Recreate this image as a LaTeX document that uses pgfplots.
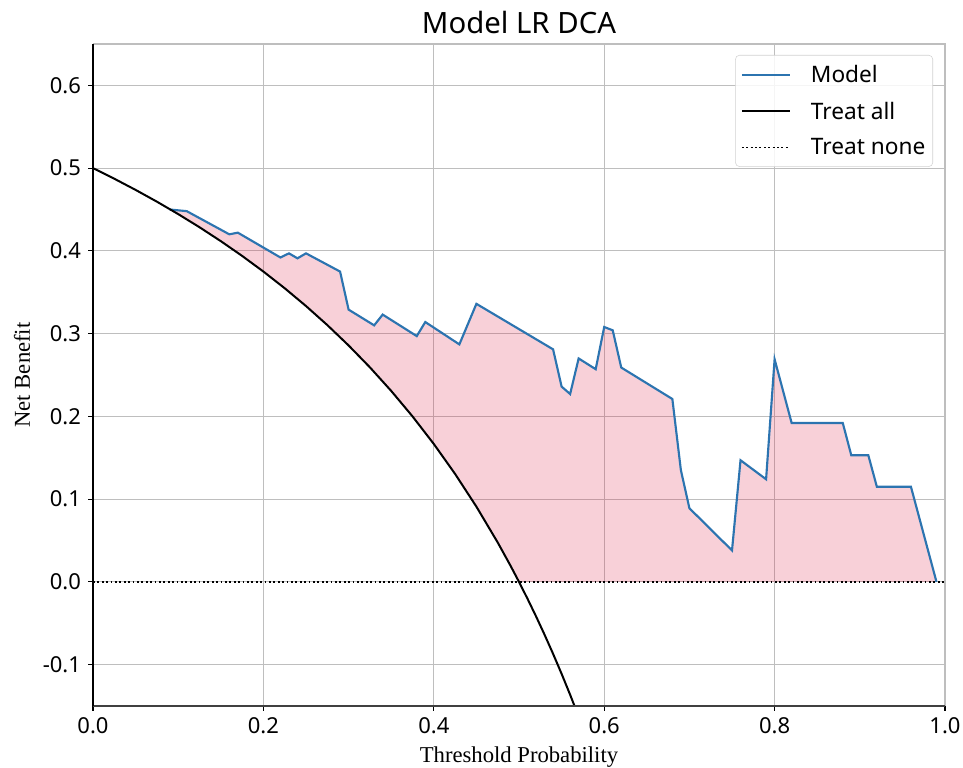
\documentclass[border=0pt]{standalone}
\usepackage{fontspec}
\setmainfont{Liberation Serif}
\newfontfamily\sans{Noto Sans}
\usepackage{pgfplots}
\pgfplotsset{compat=1.18}
\definecolor{modelblue}{RGB}{44,116,176}
\definecolor{fillred}{RGB}{220,20,60}
\definecolor{gridgray}{RGB}{190,190,190}
\begin{document}
\begin{tikzpicture}
\begin{axis}[
  scale only axis,
  width=639pt, height=496.5pt,
  xmin=0, xmax=1, ymin=-0.15, ymax=0.65,
  xtick={0,0.2,0.4,0.6,0.8,1.0},
  xticklabels={0.0,0.2,0.4,0.6,0.8,1.0},
  ytick={-0.1,0,0.1,0.2,0.3,0.4,0.5,0.6},
  yticklabels={-0.1,0.0,0.1,0.2,0.3,0.4,0.5,0.6},
  tick pos=left,
  tick align=outside,
  major tick length=3.5pt,
  every tick/.style={black, line width=0.8pt},
  grid=major,
  grid style={gridgray, line width=0.8pt},
  axis line style={draw=none},
  /pgf/number format/assume math mode=true,
  ticklabel style={font=\sans\fontsize{16.5}{19}\selectfont},
  xticklabel style={yshift=-2pt},
  yticklabel style={xshift=-2pt},
  legend cell align=left,
  legend style={
    at={(1,1)}, anchor=north east, xshift=-9pt, yshift=-8.25pt,
    font=\sans\fontsize{17}{20}\selectfont,
    draw=gray!35, rounded corners=3pt, fill=white, fill opacity=0.85, text opacity=1,
    inner xsep=4pt, inner ysep=6pt,
    row sep=10pt, column sep=13.5pt,
    nodes={inner sep=1.5pt},
  },
  legend image code/.code={\draw[#1] (0pt,0pt) -- (36pt,0pt);},
]
% shaded area between model and max(treat all, treat none)
\addplot[draw=none, fill=fillred, fill opacity=0.2, forget plot] coordinates {
(0.09,0.450) (0.11,0.448) (0.16,0.420) (0.17,0.422) (0.22,0.392) (0.23,0.397)
(0.24,0.391) (0.25,0.397) (0.29,0.375) (0.30,0.329) (0.33,0.310) (0.34,0.323)
(0.38,0.297) (0.39,0.314) (0.43,0.287) (0.45,0.336) (0.54,0.281) (0.55,0.236)
(0.56,0.227) (0.57,0.270) (0.59,0.257) (0.60,0.308) (0.61,0.304) (0.62,0.259)
(0.68,0.221) (0.69,0.135) (0.70,0.089) (0.75,0.038) (0.76,0.147) (0.79,0.124)
(0.80,0.269) (0.82,0.192) (0.88,0.192) (0.89,0.153) (0.91,0.153) (0.92,0.115)
(0.96,0.115) (0.99,0.000)
(0.50,0.000) (0.49,0.01961) (0.475,0.04762) (0.45,0.09091) (0.425,0.13043)
(0.40,0.16667) (0.375,0.20000) (0.35,0.23077) (0.325,0.25926) (0.30,0.28571)
(0.275,0.31034) (0.25,0.33333) (0.225,0.35484) (0.20,0.37500) (0.175,0.39394)
(0.15,0.41176) (0.125,0.42857) (0.10,0.44444) (0.09,0.45055)
} -- cycle;
\addplot[modelblue, line width=1.6pt] coordinates {
(0.09,0.450) (0.11,0.448) (0.16,0.420) (0.17,0.422) (0.22,0.392) (0.23,0.397)
(0.24,0.391) (0.25,0.397) (0.29,0.375) (0.30,0.329) (0.33,0.310) (0.34,0.323)
(0.38,0.297) (0.39,0.314) (0.43,0.287) (0.45,0.336) (0.54,0.281) (0.55,0.236)
(0.56,0.227) (0.57,0.270) (0.59,0.257) (0.60,0.308) (0.61,0.304) (0.62,0.259)
(0.68,0.221) (0.69,0.135) (0.70,0.089) (0.75,0.038) (0.76,0.147) (0.79,0.124)
(0.80,0.269) (0.82,0.192) (0.88,0.192) (0.89,0.153) (0.91,0.153) (0.92,0.115)
(0.96,0.115) (0.99,0.000)
};
\addlegendentry{Model}
\addplot[black, line width=1.5pt] coordinates {
(0.000,0.50000) (0.025,0.48718) (0.050,0.47368) (0.075,0.45946) (0.100,0.44444)
(0.125,0.42857) (0.150,0.41176) (0.175,0.39394) (0.200,0.37500) (0.225,0.35484)
(0.250,0.33333) (0.275,0.31034) (0.300,0.28571) (0.325,0.25926) (0.350,0.23077)
(0.375,0.20000) (0.400,0.16667) (0.425,0.13043) (0.450,0.09091) (0.475,0.04762)
(0.490,0.01961) (0.500,0.00000) (0.510,-0.02041) (0.520,-0.04167) (0.530,-0.06383)
(0.540,-0.08696) (0.550,-0.11111) (0.560,-0.13636) (0.570,-0.16279)
};
\addlegendentry{Treat all}
\addplot[black, line width=1.4pt, dash pattern=on 1.4pt off 1.9pt] coordinates {
(0,0) (1,0)
};
\addlegendentry{Treat none}
\coordinate (SW) at (rel axis cs:0,0);
\coordinate (NE) at (rel axis cs:1,1);
\coordinate (NW) at (rel axis cs:0,1);
\coordinate (SE) at (rel axis cs:1,0);
\coordinate (T) at (rel axis cs:0.5,1);
\coordinate (XL) at (rel axis cs:0.5,0);
\coordinate (YL) at (rel axis cs:0,0.5);
\end{axis}
\draw[gridgray, line width=0.9pt] (NW) -- (NE) -- (SE);
\draw[black!75, line width=1.1pt] (SW) -- (SE);
\draw[black, line width=1.1pt] (SW) -- (NW);
\node[anchor=base, font=\sans\fontsize{22}{26}\selectfont] at ([yshift=8pt]T) {Model LR DCA};
\node[anchor=base, font=\fontsize{17}{20}\selectfont] at ([yshift=-42pt]XL) {Threshold Probability};
\node[anchor=base, rotate=90, font=\fontsize{17}{20}\selectfont] at ([xshift=-47.25pt]YL) {Net Benefit};
\pgfresetboundingbox
\path[use as bounding box] ([shift={(-69.75pt,-45.75pt)}]SW) rectangle ([shift={(13.5pt,33pt)}]NE);
\end{tikzpicture}
\end{document}
